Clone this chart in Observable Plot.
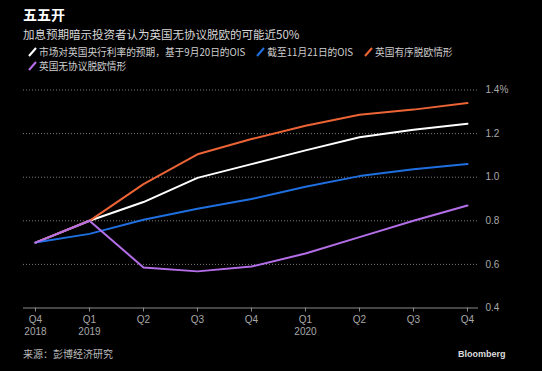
<!DOCTYPE html>
<html><head><meta charset="utf-8">
<script src="https://cdn.jsdelivr.net/npm/d3@7"></script>
<script src="https://cdn.jsdelivr.net/npm/@observablehq/plot@0.6"></script>
<style>
html,body{margin:0;padding:0;background:#000;}
#wrap{position:relative;width:542px;height:371px;background:#000;overflow:hidden;font-family:"Noto Sans CJK SC","Noto Sans",sans-serif;}
.t{position:absolute;white-space:nowrap;}
#title{left:23px;top:4px;font-size:14px;font-weight:bold;color:#fff;}
#sub{left:23px;top:26px;font-size:11.5px;color:#d8d8d8;}
#legend{left:28px;top:46px;font-size:9.7px;color:#cfcfcf;line-height:13.5px;}
#legend span.it{margin-right:11px;}
#legend svg{vertical-align:-1px;margin-right:2px;}
#src{left:23px;top:346px;font-size:10px;color:#bbb;}
#bb{left:458px;top:349px;font-size:9px;font-weight:bold;color:#ddd;font-family:"Liberation Sans",Arial,sans-serif;}
#chart{position:absolute;left:0;top:78px;}
</style></head>
<body><div id="wrap">
<div class="t" id="title">五五开</div>
<div class="t" id="sub">加息预期暗示投资者认为英国无协议脱欧的可能近50%</div>
<div class="t" id="legend"></div>
<div id="chart"></div>
<div class="t" id="src">来源：彭博经济研究</div>
<div class="t" id="bb">Bloomberg</div>
</div>
<script>
const quarters = ["Q4","Q1","Q2","Q3","Q4","Q1","Q2","Q3","Q4"];
const years = ["2018","2019","","","","2020","","",""];
const seriesNames = ["市场对英国央行利率的预期，基于9月20日的OIS","截至11月21日的OIS","英国有序脱欧情形","英国无协议脱欧情形"];
const seriesColors = ["#ffffff","#1f6fe0","#ec6436","#b46ee8"];
const sep20 = [0.70,0.80,0.886,0.997,1.06,1.123,1.183,1.218,1.245];
const nov21 = [0.70,0.74,0.805,0.855,0.90,0.956,1.005,1.036,1.06];
const orderly = [0.70,0.80,0.968,1.105,1.175,1.236,1.286,1.31,1.34];
const noDeal = [0.70,0.80,0.586,0.568,0.59,0.65,0.725,0.80,0.87];
const yTicks = [0.4,0.6,0.8,1.0,1.2,1.4];

const values = [sep20, nov21, orderly, noDeal];
const rows = [];
[0,2,1,3].forEach(s => values[s].forEach((v,i) => rows.push({i, v, s})));

// legend
const lg = document.getElementById("legend");
const legendRows = [[0,1,2],[3]];
lg.innerHTML = legendRows.map(r => "<div>" + r.map(s =>
  `<span class="it"><svg width="9" height="10"><line x1="1" y1="9" x2="8" y2="1" stroke="${seriesColors[s]}" stroke-width="2"/></svg>${seriesNames[s]}</span>`
).join("") + "</div>").join("");

const tickFont = '"Liberation Sans","DejaVu Sans",sans-serif';
const yearIdx = d3.range(9).filter(i => years[i]);
const chart = Plot.plot({
  width: 542, height: 270,
  marginLeft: 23, marginRight: 64, marginTop: 11.5, marginBottom: 40.5,
  style: {background: "#000", color: "#a0a0a0", fontSize: "10px", fontFamily: tickFont},
  x: {type: "linear", domain: [-0.222, 8.204]},
  y: {domain: [0.4, 1.4]},
  marks: [
    Plot.gridY(yTicks.filter(d => d > 0.4), {stroke: "#888", strokeOpacity: 0.9, strokeDasharray: "1,2", strokeWidth: 1}),
    Plot.ruleY([0.4], {stroke: "#8a8a8a", strokeWidth: 1.2}),
    Plot.axisY(yTicks, {anchor: "right", tickSize: 0, tickPadding: 7, fill: "#a8a8a8", fontFamily: tickFont,
      tickFormat: d => d === 1.4 ? "1.4%" : d.toFixed(1), label: null}),
    Plot.axisX(d3.range(9), {anchor: "bottom", tickSize: 4, stroke: "#8a8a8a", tickPadding: 4, fill: "#a8a8a8", fontFamily: tickFont,
      tickFormat: i => quarters[i], label: null}),
    Plot.axisX(yearIdx, {anchor: "bottom", tickSize: 0, tickPadding: 20, fill: "#a8a8a8", fontFamily: tickFont,
      tickFormat: i => years[i], label: null}),
    Plot.line(rows, {x: "i", y: "v", z: "s", stroke: d => seriesColors[d.s], strokeWidth: 2, curve: "linear"})
  ]
});
document.getElementById("chart").appendChild(chart);
</script>
</body></html>
